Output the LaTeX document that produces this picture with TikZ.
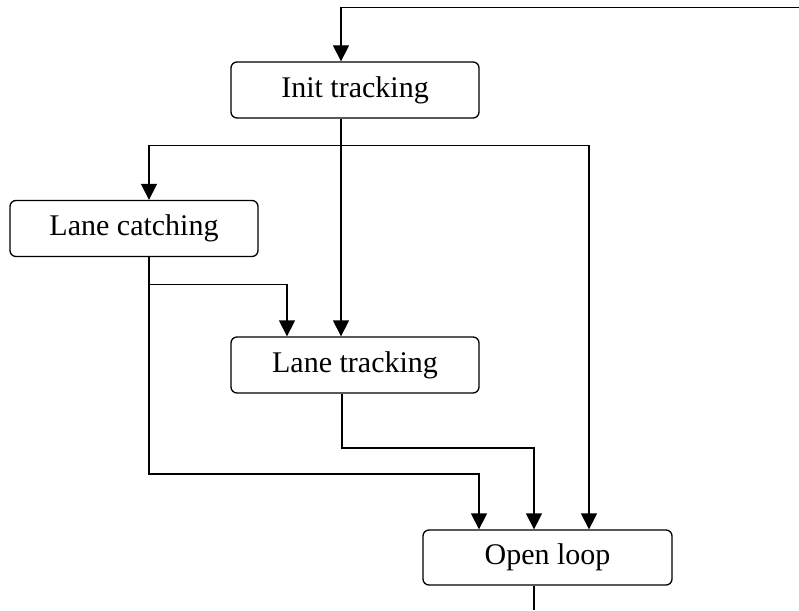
\documentclass[tikz,border=0pt]{standalone}
\usepackage{fontspec}
\setmainfont{Liberation Serif}
\usetikzlibrary{arrows.meta}
\begin{document}
\begin{tikzpicture}[x=1pt,y=-1pt,
  box/.style={draw, rounded corners=6pt, line width=1.3pt, minimum width=248pt,
    minimum height=56pt, inner sep=0pt, font=\fontsize{30}{36}\selectfont},
  conn/.style={line width=1.3pt},
  arr/.style={conn, -{Triangle[width=16pt,length=16pt]}}]
\useasboundingbox (0,0) rectangle (799,610);

% states
\node[box] (init)  at (355,90)      {Init tracking};
\node[box] (catch) at (134,228.5)   {Lane catching};
\node[box] (track) at (355,365)     {Lane tracking};
\node[box, minimum width=249pt, minimum height=55pt] (open) at (547.5,557.5) {Open loop};

% free ends of the loop-back line and the exit line
\coordinate (back) at (799,7.5);
\coordinate (exit) at (534,610);

% re-entry into Init tracking
\draw[arr] (back) -| ([xshift=-14pt]init.north);

% Init tracking outputs
\draw[arr] ([xshift=-14pt]init.south) -- ([xshift=-14pt]track.north);
\draw[arr] ([xshift=-14pt]init.south) ++(0,27) -| ([xshift=15pt]catch.north);
\draw[arr] ([xshift=-14pt]init.south) ++(0,27) -| ([xshift=41.5pt]open.north);

% Lane catching outputs
\draw[arr] ([xshift=15pt]catch.south) ++(0,27) -| ([xshift=-68pt]track.north);
\draw[arr] ([xshift=15pt]catch.south) |- (479,474) -- ([xshift=-68.5pt]open.north);

% Lane tracking output
\draw[arr] ([xshift=-13pt]track.south) |- (534,448) -- ([xshift=-13.5pt]open.north);

% Open loop output
\draw[conn] ([xshift=-13.5pt]open.south) -- (exit);
\end{tikzpicture}
\end{document}
